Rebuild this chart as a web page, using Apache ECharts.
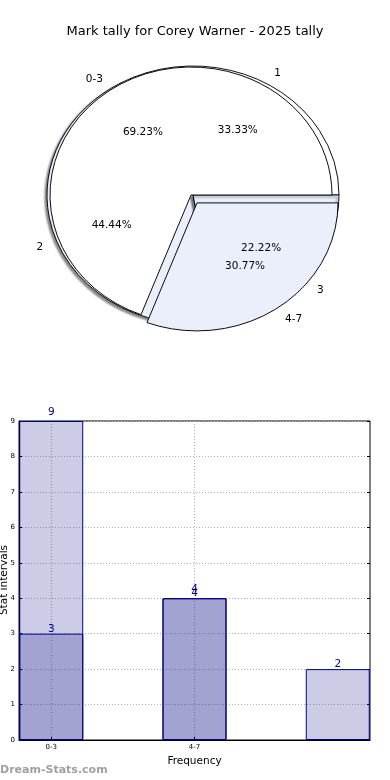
<!DOCTYPE html>
<html>
<head>
<meta charset="utf-8">
<script src="https://cdn.jsdelivr.net/npm/echarts@6/dist/echarts.min.js"></script>
<style>
html,body{margin:0;padding:0;background:#fff;}
#chart{width:390px;height:780px;}
</style>
</head>
<body>
<div id="chart"></div>
<script>
// ---- data ----
const titleText = 'Mark tally for Corey Warner - 2025 tally';
const rangeCats = ['0-3', '4-7'];          // front pie / first bar series
const rangeVals = [9, 4];
const markCats = ['1', '2', '3'];          // back pie / second bar series
const markVals = [3, 4, 2];
const yTicks = [0, 1, 2, 3, 4, 5, 6, 7, 8, 9];
const xAxisName = 'Frequency';
const yAxisName = 'Stat intervals';
const watermark = 'Dream-Stats.com';

// ---- pie geometry (layout only) ----
const backGeo = { cx: 193, cy: 195, rx: 146, ry: 129 };
const backLabelGeo = { cx: 194, cy: 198, rx: 146, ry: 131 };
const frontGeo = { cx: 191, cy: 195, rx: 141, ry: 128 };
const backColors = ['#ffffff', '#eaeffb', '#eaeffb'];
const frontColors = ['#ffffff', '#eaeffb'];
const backExplode = [0, 0, 0];
const frontExplode = [0, 0.075];
const FONT = 'DejaVu Sans';

function wedge(vals, geo, explode, i, v) {
  const total = vals.reduce((a, b) => a + b, 0);
  let before = 0;
  for (let k = 0; k < i; k++) before += vals[k];
  const a1 = before / total * Math.PI * 2;
  const a2 = (before + v) / total * Math.PI * 2;
  const mid = (a1 + a2) / 2;
  const ex = explode[i] || 0;
  const cx = geo.cx + ex * geo.rx * Math.cos(mid);
  const cy = geo.cy - ex * geo.ry * Math.sin(mid);
  return { a1, a2, mid, cx, cy, pct: v / total * 100 };
}

function shapeRender(vals, geo, explode, colors, shadow) {
  return function (params, api) {
    const i = params.dataIndex;
    const w = wedge(vals, geo, explode, i, api.value(0));
    const style = { fill: colors[i], stroke: '#000', lineWidth: 1, strokeNoScale: true };
    if (shadow && i > 0) {
      style.shadowColor = 'rgba(0,0,0,0.45)';
      style.shadowBlur = 2;
      style.shadowOffsetX = -2;
      style.shadowOffsetY = 2;
    }
    return {
      type: 'group', x: w.cx, y: w.cy, scaleY: geo.ry / geo.rx,
      children: [{
        type: 'sector',
        shape: { cx: 0, cy: 0, r: geo.rx, r0: 0, startAngle: -w.a2, endAngle: -w.a1, clockwise: true },
        style: style
      }]
    };
  };
}

function labelRender(vals, cats, geo, explode) {
  return function (params, api) {
    const i = params.dataIndex;
    const w = wedge(vals, geo, explode, i, api.value(0));
    const c = Math.cos(w.mid), s = Math.sin(w.mid);
    return {
      type: 'group',
      children: [
        { type: 'text', x: w.cx + 1.1 * geo.rx * c, y: w.cy - 1.1 * geo.ry * s,
          style: { text: cats[i], align: c >= 0 ? 'left' : 'right', verticalAlign: 'middle',
                   fontFamily: FONT, fontSize: 10.5, fill: '#000' } },
        { type: 'text', x: w.cx + 0.6 * geo.rx * c, y: w.cy - 0.6 * geo.ry * s,
          style: { text: w.pct.toFixed(2) + '%', align: 'center', verticalAlign: 'middle',
                   fontFamily: FONT, fontSize: 10.5, fill: '#000' } }
      ]
    };
  };
}

const chart = echarts.init(document.getElementById('chart'), null, { renderer: 'canvas' });
const barFill = 'rgba(0,0,128,0.2)';

const option = {
  animation: false,
  backgroundColor: '#fff',
  title: {
    text: titleText, left: 'center', top: 20,
    textStyle: { fontFamily: FONT, fontSize: 13, fontWeight: 'normal', color: '#000' }
  },
  graphic: [{
    type: 'text', left: 0, top: 765,
    style: { text: watermark, fontFamily: FONT, fontSize: 11, fontWeight: 'bold', fill: '#a0a0a0' }
  }, {
    type: 'text', x: 4, y: 580, rotation: Math.PI / 2,
    style: { text: yAxisName, align: 'center', verticalAlign: 'middle',
             fontFamily: FONT, fontSize: 10.5, fill: '#000' }
  }],
  grid: { left: 19, right: 20, top: 421, bottom: 40, show: true, borderColor: '#000', borderWidth: 1,
          containLabel: false, outerBoundsMode: 'none' },
  xAxis: {
    type: 'value', min: -0.225, max: 2.225,
    name: xAxisName, nameLocation: 'middle', nameGap: 16,
    nameTextStyle: { fontFamily: FONT, fontSize: 10.5, color: '#000' },
    axisLine: { show: true, onZero: false, lineStyle: { color: '#000' } },
    axisTick: { show: true, inside: true, length: 3, customValues: [0, 1], lineStyle: { color: '#000' } },
    axisLabel: { customValues: [0, 1], formatter: v => rangeCats[Math.round(v)] || '',
                 fontFamily: FONT, fontSize: 7, color: '#000', margin: 4 },
    splitLine: { show: true, lineStyle: { color: '#b0b0b0', type: [1, 2], width: 1 } }
  },
  yAxis: [{
    type: 'value', min: yTicks[0], max: yTicks[yTicks.length - 1], interval: 1,
    axisLine: { show: true, onZero: false, lineStyle: { color: '#000' } },
    axisTick: { show: true, inside: true, length: 3, lineStyle: { color: '#000' } },
    axisLabel: { fontFamily: FONT, fontSize: 7, color: '#000', margin: 4 },
    splitLine: { show: true, lineStyle: { color: '#b0b0b0', type: [1, 2], width: 1 } }
  }, {
    type: 'value', position: 'right', min: yTicks[0], max: yTicks[yTicks.length - 1], interval: 1,
    axisLine: { show: false, onZero: false }, axisLabel: { show: false }, splitLine: { show: false },
    axisTick: { show: true, inside: true, length: 3, lineStyle: { color: '#000' } }
  }],
  series: [
    {
      type: 'custom', coordinateSystem: 'none', z: 1,
      renderItem: shapeRender(markVals, backGeo, backExplode, backColors, true),
      data: markVals.map((v, i) => [v, i])
    },
    {
      type: 'custom', coordinateSystem: 'none', z: 2,
      renderItem: shapeRender(rangeVals, frontGeo, frontExplode, frontColors, false),
      data: rangeVals.map((v, i) => [v, i])
    },
    {
      type: 'custom', coordinateSystem: 'none', z: 3,
      renderItem: labelRender(markVals, markCats, backLabelGeo, backExplode),
      data: markVals.map((v, i) => [v, i])
    },
    {
      type: 'custom', coordinateSystem: 'none', z: 3,
      renderItem: labelRender(rangeVals, rangeCats, frontGeo, frontExplode),
      data: rangeVals.map((v, i) => [v, i])
    },
    {
      type: 'bar', barWidth: 64, barGap: '-100%',
      data: rangeVals.map((v, i) => [i, v]),
      itemStyle: { color: barFill, borderColor: '#000080', borderWidth: 1 },
      label: { show: true, position: 'top', distance: 3, formatter: p => String(p.value[1]),
               fontFamily: FONT, fontSize: 10.5, color: '#00008b' }
    },
    {
      type: 'bar', barWidth: 64, barGap: '-100%',
      data: markVals.map((v, i) => [i, v]),
      itemStyle: { color: barFill, borderColor: '#000080', borderWidth: 1 },
      label: { show: true, position: 'top', distance: -1, formatter: p => String(p.value[1]),
               fontFamily: FONT, fontSize: 10.5, color: '#00008b' }
    }
  ]
};
chart.setOption(option);
</script>
</body>
</html>
